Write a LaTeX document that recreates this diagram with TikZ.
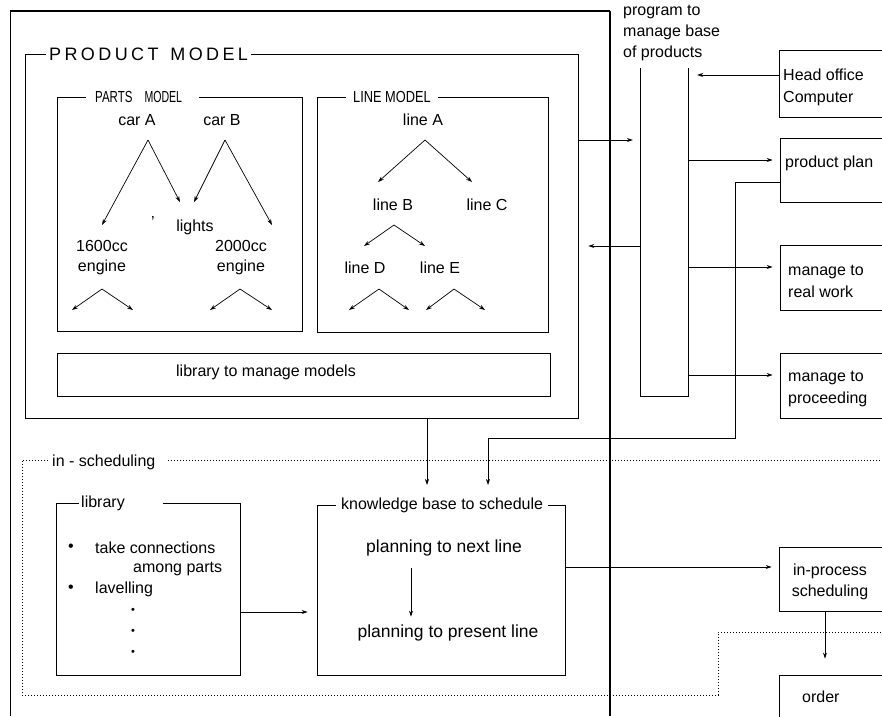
\documentclass[tikz,border=0pt]{standalone}
\usepackage{fontspec}
\setmainfont{Liberation Sans}
\usetikzlibrary{arrows.meta,fit}
\newcommand\lsp{\kern3.4pt}
\begin{document}
\begin{tikzpicture}[x=1pt,y=-1pt,
  frame/.style={draw, line width=0.8pt, inner sep=0pt},
  lbl/.style={fill=white, anchor=west, inner ysep=1pt, font=\fontsize{16}{19}\selectfont},
  txt/.style={inner sep=0pt, font=\fontsize{16}{19}\selectfont},
  big/.style={inner sep=0pt, font=\fontsize{17.5}{20}\selectfont},
  txtl/.style={inner sep=0pt, align=left, anchor=west, font=\fontsize{16}{22}\selectfont},
  arr/.style={-{Stealth[length=6pt,width=4pt]}, line width=0.7pt},
  ln/.style={line width=0.8pt},
  dotl/.style={line width=0.7pt, dash pattern=on 0.9pt off 2.1pt}]
\useasboundingbox (0,0) rectangle (882,716);

% ---------- outer frame ----------
\coordinate (ofbl) at (10,716);
\coordinate (oftl) at (10,11);
\coordinate (oftr) at (610,11);
\coordinate (ofbr) at (610,716);
\draw[line width=1pt] (ofbl) -- (oftl);
\draw[line width=1.3pt] (oftl) -- (oftr);
\draw[line width=1.7pt] (oftr) -- (ofbr);

% ---------- product model ----------
\node[frame, fit={(25,54)(578,418)}] (prod) {};
\node[lbl, inner xsep=3pt, font=\fontsize{18}{20}\selectfont] (prodlbl) at (46,54)
  {P\lsp R\lsp O\lsp D\lsp U\lsp C\lsp T\lsp\ \lsp M\lsp O\lsp D\lsp E\lsp L};

% parts model
\node[frame, fit={(57,97)(302,331)}] (parts) {};
\node[lbl, inner xsep=9pt] (partslbl) at (86,97)
  {\scalebox{0.72}[1]{PARTS}\hspace{12pt}\scalebox{0.66}[1]{MODEL}\kern8pt};

\node[txt] (carA) at (137,120) {car A};
\node[txt] (carB) at (222,120) {car B};
\node[txt] (lights) at (195,227) {lights};
\node[txt] (tick) at (153,222) {'};
\node[txt, align=center] (e1600) at (102,258) {1600cc\\[1pt]engine};
\node[txt, align=center] (e2000) at (241,258) {2000cc\\[1pt]engine};

\coordinate (apA) at (148,140);
\coordinate (apB) at (225,140);
\coordinate (tA1) at (102,225);
\coordinate (tA2) at (180,202);
\coordinate (tB1) at (194,202);
\coordinate (tB2) at (272,225);
\draw[arr] (apA) -- (tA1);
\draw[arr] (apA) -- (tA2);
\draw[arr] (apB) -- (tB1);
\draw[arr] (apB) -- (tB2);

\coordinate (ap16) at (102,289);
\coordinate (t161) at (72,310);
\coordinate (t162) at (133,310);
\coordinate (ap20) at (240,289);
\coordinate (t201) at (210,310);
\coordinate (t202) at (272,310);
\draw[arr] (ap16) -- (t161);
\draw[arr] (ap16) -- (t162);
\draw[arr] (ap20) -- (t201);
\draw[arr] (ap20) -- (t202);

% line model
\node[frame, fit={(317,97)(548,332)}] (linem) {};
\node[lbl, inner xsep=7pt] (linelbl) at (346,97) {\scalebox{0.8}[1]{LINE MODEL}};

\node[txt] (lineA) at (423,120) {line A};
\node[txt] (lineB) at (393,205) {line B};
\node[txt] (lineC) at (487,205) {line C};
\node[txt] (lineD) at (365,268) {line D};
\node[txt] (lineE) at (440,268) {line E};

\coordinate (apLA) at (425,140);
\coordinate (tLA1) at (378,182);
\coordinate (tLA2) at (472,182);
\coordinate (apLB) at (394,225);
\coordinate (tLB1) at (364,246);
\coordinate (tLB2) at (425,246);
\coordinate (apLD) at (379,289);
\coordinate (tLD1) at (349,310);
\coordinate (tLD2) at (409,310);
\coordinate (apLE) at (454,289);
\coordinate (tLE1) at (426,310);
\coordinate (tLE2) at (485,310);
\draw[arr] (apLA) -- (tLA1);
\draw[arr] (apLA) -- (tLA2);
\draw[arr] (apLB) -- (tLB1);
\draw[arr] (apLB) -- (tLB2);
\draw[arr] (apLD) -- (tLD1);
\draw[arr] (apLD) -- (tLD2);
\draw[arr] (apLE) -- (tLE1);
\draw[arr] (apLE) -- (tLE2);

% library to manage models
\node[frame, fit={(57,353)(550,396)}] (libm) {};
\node[txt] (libmtxt) at (266,372) {library to manage models};

% ---------- program box ----------
\node[inner sep=0pt, fit={(641,68)(688,396)}] (prog) {};
\draw[ln] (prog.north west) -- (prog.south west) -- (prog.south east) -- (prog.north east);
\node[txtl, font=\fontsize{16}{21}\selectfont] (progtxt) at (623,33) {program to\\manage base\\of products};

% ---------- right boxes ----------
\node[frame, fit={(779,50)(900,117)}] (head) {};
\node[txtl] (headtxt) at (783,87) {Head office\\Computer};
\node[frame, fit={(780,138)(900,202)}] (pplan) {};
\node[txt, anchor=west] (pplantxt) at (785,163) {product plan};
\node[frame, fit={(780,245)(900,310)}] (real) {};
\node[txtl] (realtxt) at (788,281) {manage to\\real work};
\node[frame, fit={(780,353)(900,418)}] (proc) {};
\node[txtl] (proctxt) at (788,389) {manage to\\proceeding};
\node[frame, fit={(779,547)(900,611)}] (inproc) {};
\node[txt, align=center, font=\fontsize{16}{21}\selectfont] (inproctxt) at (830,582) {in-process\\scheduling};
\node[frame, fit={(779,675)(900,740)}] (order) {};
\node[txt, anchor=west] (ordertxt) at (802,697) {order};

% ---------- in-scheduling ----------
\coordinate (dA) at (48,460);
\coordinate (dB) at (22,460);
\coordinate (dC) at (22,695);
\coordinate (dD) at (718,695);
\coordinate (dE) at (718,632);
\coordinate (dF) at (882,632);
\coordinate (dG) at (168,460);
\coordinate (dH) at (882,460);
\draw[dotl] (dA) -- (dB) -- (dC) -- (dD) -- (dE) -- (dF);
\draw[dotl] (dG) -- (dH);
\node[txt, anchor=west] (insched) at (52,462) {in - scheduling};

% library
\node[frame, fit={(56,503)(240,675)}] (lib) {};
\node[lbl, inner xsep=2pt] (liblbl) at (79,503) {library\kern36pt};
\node[txt] (bul1) at (71,548) {•};
\node[txt, anchor=west] (it1) at (95,548) {take connections};
\node[txt, anchor=west] (it1b) at (133,569) {among parts};
\node[txt] (bul2) at (71,589) {•};
\node[txt, anchor=west] (it2) at (95,589) {lavelling};
\node[txt, font=\fontsize{11}{12}\selectfont] (dot1) at (133,611) {•};
\node[txt, font=\fontsize{11}{12}\selectfont] (dot2) at (133,632) {•};
\node[txt, font=\fontsize{11}{12}\selectfont] (dot3) at (133,653) {•};

% knowledge base
\node[frame, fit={(317,505)(565,675)}] (kb) {};
\node[lbl, inner xsep=5pt] (kblbl) at (336,505) {knowledge base to schedule};
\node[big] (next) at (444,548) {planning to next line};
\node[big] (present) at (448,633) {planning to present line};
\coordinate (kx) at (411,0);
\draw[arr, shorten <=12pt, shorten >=8pt] (next.south -| kx) -- (present.north -| kx);

% ---------- connectors ----------
\coordinate (y75) at (0,75);
\coordinate (y140) at (0,140);
\coordinate (y160) at (0,160);
\coordinate (y182) at (0,182);
\coordinate (y246) at (0,246);
\coordinate (y267) at (0,267);
\coordinate (y375) at (0,375);
\coordinate (y567) at (0,567);
\coordinate (y612) at (0,612);
\coordinate (bend1) at (735,438);
\coordinate (kbin1) at (427,505);
\coordinate (kbin2) at (488,505);

\draw[arr, shorten >=9pt] (head.west |- y75) -- (prog.east |- y75);
\draw[arr, shorten >=8pt] (prod.east |- y140) -- (prog.west |- y140);
\draw[arr, shorten >=7pt] (prog.east |- y160) -- (pplan.west |- y160);
\draw[arr, shorten >=10pt] (prog.west |- y246) -- (prod.east |- y246);
\draw[arr, shorten >=7pt] (prog.east |- y267) -- (real.west |- y267);
\draw[arr, shorten >=7pt] (prog.east |- y375) -- (proc.west |- y375);
\draw[arr, shorten >=20pt] (pplan.west |- y182) -| (bend1) -| (kbin2);
\draw[arr, shorten >=20pt] (prod.south -| kbin1) -- (kbin1);
\draw[arr, shorten >=9pt] (lib.east |- y612) -- (kb.west |- y612);
\draw[arr, shorten >=7pt] (kb.east |- y567) -- (inproc.west |- y567);
\draw[arr, shorten >=16pt] (inproc.south -| 825,0) -- (order.north -| 825,0);
\end{tikzpicture}
\end{document}
